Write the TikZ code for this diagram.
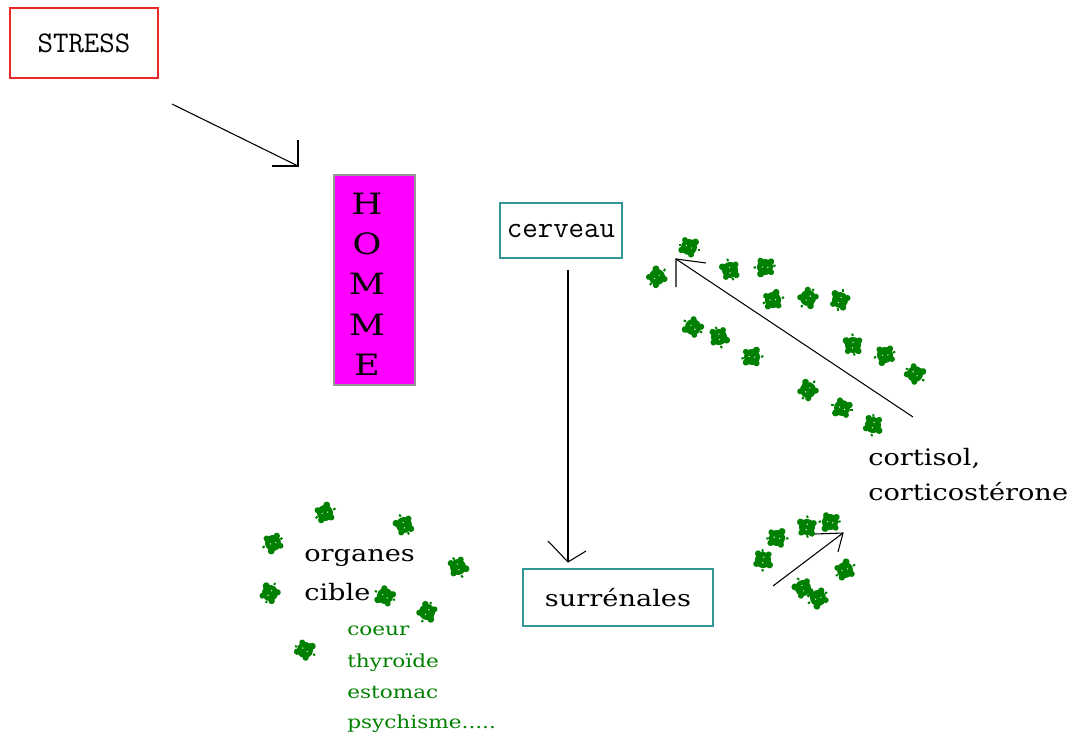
\documentclass[tikz,border=0pt]{standalone}
\usepackage{fontspec}
\newfontfamily\serfont[FakeStretch=1.2]{DejaVu Serif}
\definecolor{boxteal}{RGB}{50,150,150}
\definecolor{leaf}{RGB}{0,128,0}
\definecolor{stressred}{RGB}{235,40,40}
\definecolor{hommemag}{RGB}{255,0,255}
\definecolor{hommegray}{RGB}{150,150,150}
\tikzset{
  typtext/.style={font=\ttfamily\fontsize{22.5}{27}\selectfont, inner sep=0pt},
  sertext/.style={font=\serfont\fontsize{17}{20}\selectfont, inner sep=0pt, anchor=base west},
  greentext/.style={font=\serfont\fontsize{13.5}{16}\selectfont, inner sep=0pt, anchor=base west, text=leaf},
  letter/.style={font=\serfont\fontsize{22}{26}\selectfont, inner sep=0pt, anchor=base},
  tealbox/.style={draw=boxteal, line width=1.5pt, rectangle, inner sep=0pt},
  conn/.style={draw=black, line width=0.8pt},
  blob/.pic={
    \fill[leaf] (0,0) circle[radius=6pt];
    \fill[leaf] (6.5,-5) circle[radius=2.6pt];
    \fill[leaf] (-7.5,3) circle[radius=2.4pt];
    \fill[leaf] (2,7.5) circle[radius=2.3pt];
    \fill[leaf] (-4,-7) circle[radius=2.2pt];
    \fill[leaf] (8.5,2) rectangle (11,4);
    \fill[leaf] (-10.5,-3) rectangle (-8,-1);
    \fill[white] (-2.5,-1.5) circle[radius=0.55pt];
    \fill[white] (2.5,1) circle[radius=0.5pt];
  }
}
\begin{document}
\begin{tikzpicture}[x=0.75pt,y=-0.75pt]
\useasboundingbox (0,0) rectangle (1068,738);

% STRESS
\node[draw=stressred, line width=1.5pt, rectangle, inner sep=0pt,
      minimum width=111pt, minimum height=52.5pt, typtext] (stress) at (84,43) {STRESS};

% HOMME
\node[fill=hommemag, draw=hommegray, line width=1.5pt, rectangle, inner sep=0pt,
      minimum width=60.75pt, minimum height=157.5pt] (homme) at (374.5,280) {};
\node[letter] (h1) at (367,215) {H};
\node[letter] (h2) at (367,254) {O};
\node[letter] (h3) at (367,295) {M};
\node[letter] (h4) at (367,335) {M};
\node[letter] (h5) at (367,375) {E};

% cerveau
\node[tealbox, minimum width=91.5pt, minimum height=41.25pt, typtext] (cerveau) at (561,230.5) {cerveau};

% surrenales
\node[tealbox, minimum width=142.5pt, minimum height=42.75pt,
      font=\serfont\fontsize{17}{20}\selectfont] (surrenales) at (618,597.5) {surrénales};

% cortisol text
\node[sertext] (cort1) at (868,465) {cortisol,};
\node[sertext] (cort2) at (868,500) {corticostérone};

% organes cible
\node[sertext] (org1) at (304,561) {organes};
\node[sertext] (org2) at (304,600) {cible};
\node[greentext] (g1) at (347,635) {coeur};
\node[greentext] (g2) at (347,667) {thyroïde};
\node[greentext] (g3) at (347,698) {estomac};
\node[greentext] (g4) at (347,728) {psychisme.....};

% arrow STRESS -> HOMME
\coordinate (a1s) at (172,104);
\coordinate (a1e) at (298,166);
\coordinate (a1h) at (272,166);
\coordinate (a1v) at (298,140);
\draw[conn] (a1s) -- (a1e);
\draw[conn] (a1h) -- (a1e) -- (a1v);

% arrow cerveau -> surrenales
\coordinate (a2s) at (568,270);
\coordinate (a2e) at (568,562);
\coordinate (a2l) at (548,541);
\coordinate (a2r) at (586,551);
\draw[conn] (a2s) -- (a2e);
\draw[conn] (a2l) -- (a2e) -- (a2r);

% cortisol arrow
\coordinate (a3s) at (913,417);
\coordinate (a3e) at (676,259);
\coordinate (a3v) at (676,287);
\coordinate (a3h) at (706,263);
\draw[conn] (a3s) -- (a3e);
\draw[conn] (a3v) -- (a3e) -- (a3h);

% small arrow
\coordinate (a4s) at (773,586);
\coordinate (a4e) at (843,533);
\coordinate (a4h) at (815,534);
\coordinate (a4v) at (838,552);
\draw[conn] (a4s) -- (a4e);
\draw[conn] (a4h) -- (a4e) -- (a4v);

% blobs upper right
\foreach \x/\y/\r in {689/247/0, 657/277/60, 730/270/120, 765/267/200, 773/300/30,
  808/298/250, 840/300/90, 693/327/160, 719/337/300, 752/357/20, 853/345/110,
  885/355/210, 915/374/340, 808/390/70, 842/408/180, 873/425/280} {
  \pic[rotate=\r] at (\x,\y) {blob};
}
% blobs near organes
\foreach \x/\y/\r in {325/513/40, 404/525/130, 273/543/220, 458/567/310,
  270/593/80, 385/596/170, 427/612/260, 305/650/350} {
  \pic[rotate=\r] at (\x,\y) {blob};
}
% blobs near small arrow
\foreach \x/\y/\r in {777/538/15, 807/527/105, 830/522/195, 763/560/285,
  845/570/45, 803/588/135, 818/598/225} {
  \pic[rotate=\r] at (\x,\y) {blob};
}
\end{tikzpicture}
\end{document}
